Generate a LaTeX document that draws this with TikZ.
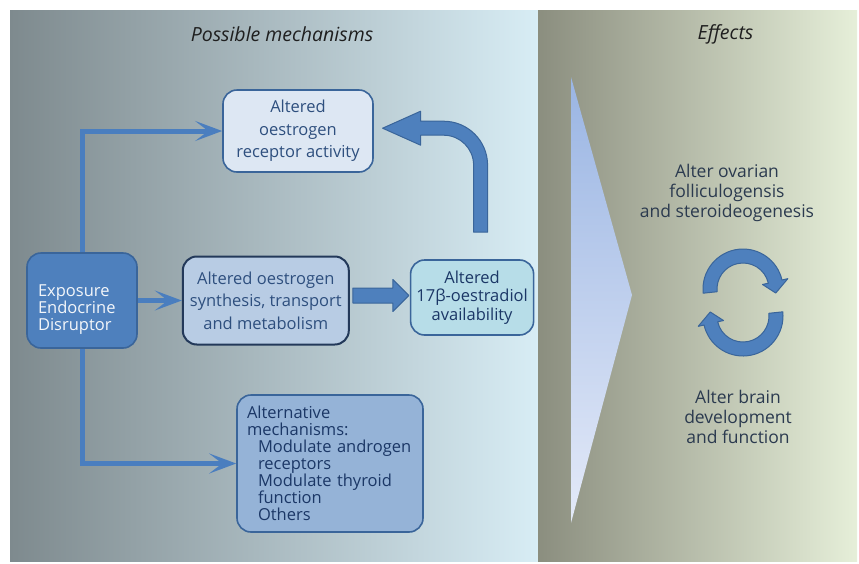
\documentclass[tikz,border=0pt]{standalone}
\usepackage{fontspec}
\setsansfont{Open Sans}
\usetikzlibrary{arrows.meta,positioning,calc}
\definecolor{ink}{HTML}{2E4F7E}
\definecolor{deepink}{HTML}{1B3766}
\definecolor{slate}{HTML}{2B3A4F}
\definecolor{edge}{HTML}{3A659A}
\definecolor{darkedge}{HTML}{23395A}
\definecolor{flow}{HTML}{4A7EBF}
\definecolor{expofill}{HTML}{4E80BD}
\definecolor{recepfill}{HTML}{DDE7F3}
\definecolor{synthfill}{HTML}{B8CCE4}
\definecolor{availfill}{HTML}{B7DDE8}
\definecolor{altfill}{HTML}{95B3D7}
\definecolor{mechleft}{HTML}{7E8A8E}
\definecolor{mechright}{HTML}{D8EDF5}
\definecolor{effleft}{HTML}{8B8E7F}
\definecolor{effright}{HTML}{E6EFD9}
\definecolor{wedgetop}{HTML}{9AB5E3}
\definecolor{wedgebot}{HTML}{E4EAF8}
\tikzset{
  box/.style={draw=edge, line width=1.6pt, rounded corners=14pt, fill=#1, text=ink, align=center, inner sep=0pt, font=\sffamily\fontsize{16.5}{22.5}\selectfont},
  link/.style={-{Stealth[length=27pt,width=20pt,inset=13pt]}, line width=5pt, draw=flow},
  block/.style={fill=expofill, draw=edge, line width=1pt, line join=round},
  effect/.style={text=slate, align=center, font=\sffamily\fontsize{17.5}{20}\selectfont},
  heading/.style={text=black!88, font=\sffamily\itshape\fontsize{19.5}{22}\selectfont}
}

\begin{document}
\begin{tikzpicture}[x=1pt, y=-1pt]
  \useasboundingbox (0,0) rectangle (859,563);
  \fill[white] (0,0) rectangle (859,563);
  \shade[left color=mechleft, right color=mechright] (10,10) rectangle (538,561);
  \shade[left color=effleft, right color=effright] (538,10) rectangle (857,561);
  \shade[top color=wedgetop, bottom color=wedgebot] (571,77) -- (632,295) -- (571,523) -- cycle;

  \node[heading] (mechtitle) at (282,34) {Possible mechanisms};
  \node[heading] (efftitle) at (725.5,34) {Effects};

  \node[box=expofill, text=white!93!expofill, minimum width=110pt, minimum height=95pt, text width=88pt, align=left, text depth=20pt, font=\sffamily\fontsize{16.5}{17}\selectfont] (expo) at (82,300.5) {Exposure\\Endocrine\\Disruptor};
  \node[box=recepfill, minimum width=150pt, minimum height=82pt] (recep) at (298,131) {Altered\\oestrogen\\receptor activity};
  \node[box=synthfill, draw=darkedge, line width=2pt, minimum width=166pt, minimum height=88pt, right=44pt of expo] (synth) {Altered oestrogen\\synthesis, transport\\and metabolism};
  \node[box=availfill, text=deepink, minimum width=123pt, minimum height=75pt, font=\sffamily\fontsize{16.5}{18.5}\selectfont, right=60pt of synth, yshift=3pt] (avail) {Altered\\17β-oestradiol\\availability};
  \node[box=altfill, text=deepink, minimum width=186pt, minimum height=137pt, text width=166pt, align=left, font=\sffamily\fontsize{16.5}{17}\selectfont] (alt) at (330,463.5) {Alternative\\mechanisms:\\\hspace*{11pt}Modulate androgen\\\hspace*{11pt}receptors\\\hspace*{11pt}Modulate thyroid\\\hspace*{11pt}function\\\hspace*{11pt}Others};

  \node[effect] (ovary) at (727,193) {Alter ovarian\\folliculogensis\\and steroideogenesis};
  \node[effect] (brain) at (738,417) {Alter brain\\development\\and function};

  \draw[link] (expo.north) |- (recep.west);
  \draw[link] (expo.east) -- (synth.west);
  \draw[link] (expo.south) |- (alt.west);

  \draw[block] ($(synth.east)+(3,-12.5)$) -- ++(40,0) -- ++(0,-8.5) -- ++(16,16) -- ++(-16,16) -- ++(0,-8.5) -- ++(-40,0) -- cycle;
  \draw[block] ($(avail.north)+(1.5,-27)$) -- ++(14,0) -- ++(0,-67) arc[start angle=0, end angle=-90, radius=44] -- ++(-23,0) -- ++(0,-10) -- ++(-38,17) -- ++(38,17) -- ++(0,-10) -- ++(23,0) arc[start angle=-90, end angle=0, radius=30] -- cycle;

  \coordinate (topturn) at (743,289);
  \coordinate (botturn) at (743,316);
  \draw[block] ($(topturn)+(174:40)$) arc[start angle=174, end angle=347, radius=40] -- ($(topturn)+(347:46)$) -- ($(topturn)+(7:33)$) -- ($(topturn)+(347:20)$) -- ($(topturn)+(347:26)$) arc[start angle=347, end angle=174, radius=26] -- cycle;
  \draw[block] ($(botturn)+(-6:40)$) arc[start angle=-6, end angle=167, radius=40] -- ($(botturn)+(167:46)$) -- ($(botturn)+(187:33)$) -- ($(botturn)+(167:20)$) -- ($(botturn)+(167:26)$) arc[start angle=167, end angle=-6, radius=26] -- cycle;
\end{tikzpicture}
\end{document}
